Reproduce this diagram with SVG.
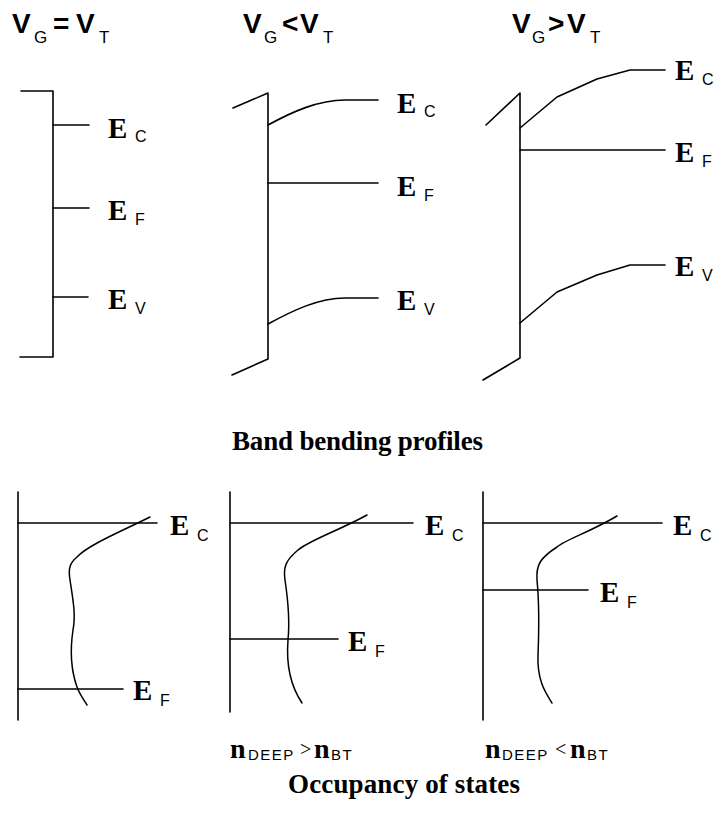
<svg xmlns="http://www.w3.org/2000/svg" width="726" height="828" viewBox="0 0 726 828">
<style>
.ln{fill:none;stroke:#000;stroke-width:1.6;stroke-linecap:round;stroke-linejoin:round}
.cv{fill:none;stroke:#000;stroke-width:1.5;stroke-linecap:round}
.tv{font-family:"Liberation Sans",Arial,sans-serif;font-weight:bold;font-size:28px;fill:#000}
.ts{font-family:"Liberation Sans",Arial,sans-serif;font-weight:normal;font-size:17px;fill:#000}
.e{font-family:"Liberation Serif","Times New Roman",serif;font-weight:bold;font-size:29px;fill:#000}
.es{font-family:"Liberation Sans",Arial,sans-serif;font-weight:normal;font-size:16px;fill:#000}
.n{font-family:"Liberation Serif","Times New Roman",serif;font-weight:bold;font-size:28px;fill:#000}
.ns{font-family:"Liberation Sans",Arial,sans-serif;font-weight:normal;font-size:15px;letter-spacing:1.5px;fill:#000}
.op{font-family:"Liberation Serif","Times New Roman",serif;font-weight:normal;font-size:20px;fill:#000}
.cap{font-family:"Liberation Serif","Times New Roman",serif;font-weight:bold;font-size:27px;fill:#000}
</style>
<rect width="726" height="828" fill="#fff"/>

<g id="title1"><text class="tv" x="12" y="33">V<tspan class="ts" x="34" y="43">G</tspan><tspan x="53" y="33">=</tspan><tspan x="76" y="33">V</tspan><tspan class="ts" x="99" y="43">T</tspan></text></g>
<g id="title2"><text class="tv" x="243" y="33">V<tspan class="ts" x="264" y="43">G</tspan><tspan x="282" y="33">&lt;</tspan><tspan x="300" y="33">V</tspan><tspan class="ts" x="323" y="43">T</tspan></text></g>
<g id="title3"><text class="tv" x="512" y="33">V<tspan class="ts" x="532" y="43">G</tspan><tspan x="548" y="33">&gt;</tspan><tspan x="567" y="33">V</tspan><tspan class="ts" x="590" y="43">T</tspan></text></g>

<g id="band1">
<path class="ln" d="M21,91 H53 V357 H20"/>
<path class="ln" d="M53,125 H89 M53,208 H89 M53,297 H88"/>
<text class="e" x="108" y="138">E<tspan class="es" x="135" y="142">C</tspan></text>
<text class="e" x="108" y="220">E<tspan class="es" x="135" y="225">F</tspan></text>
<text class="e" x="108" y="309">E<tspan class="es" x="135" y="314">V</tspan></text>
</g>

<g id="band2">
<path class="ln" d="M233,108 L268,93 V359 L232,375"/>
<path class="ln" d="M268,125 C292,112 318,100 345,100 L378,100"/>
<path class="ln" d="M268,183 H378"/>
<path class="ln" d="M268,324 C292,311 318,298 345,298 L378,298"/>
<text class="e" x="397" y="113">E<tspan class="es" x="424" y="117">C</tspan></text>
<text class="e" x="397" y="196">E<tspan class="es" x="424" y="201">F</tspan></text>
<text class="e" x="397" y="310">E<tspan class="es" x="424" y="315">V</tspan></text>
</g>

<g id="band3">
<path class="ln" d="M486,125 L520,93 V358 L483,380"/>
<polyline class="ln" points="520,128 557,97 597,79 630,70 665,70"/>
<path class="ln" d="M520,150 H665"/>
<polyline class="ln" points="520,323 557,292 597,275 630,265 665,265"/>
<text class="e" x="675" y="80">E<tspan class="es" x="702" y="85">C</tspan></text>
<text class="e" x="675" y="162">E<tspan class="es" x="702" y="167">F</tspan></text>
<text class="e" x="675" y="276">E<tspan class="es" x="702" y="281">V</tspan></text>
</g>

<g id="caption-band"><text class="cap" x="232" y="450" textLength="251" lengthAdjust="spacing">Band bending profiles</text></g>

<g id="occ1">
<path class="ln" d="M18,492 V720"/>
<path class="ln" d="M18,523 H157 M18,689 H123"/>
<path class="cv" d="M150,517 C120,532 88,545 77,557 C70,563 68,568 70,580 C73,600 76,615 73,630 C70,650 71,670 77,687 C80,695 84,700 87,705"/>
<text class="e" x="170" y="535">E<tspan class="es" x="197" y="541">C</tspan></text>
<text class="e" x="133" y="700">E<tspan class="es" x="160" y="706">F</tspan></text>
</g>

<g id="occ2">
<path class="ln" d="M230,492 V712"/>
<path class="ln" d="M230,523 H413 M230,639 H338"/>
<path class="cv" d="M367,515 C340,530 310,540 298,550 C286,560 283,567 285,580 C288,600 290,620 288,640 C286,665 290,685 302,703"/>
<text class="e" x="425" y="535">E<tspan class="es" x="452" y="541">C</tspan></text>
<text class="e" x="348" y="651">E<tspan class="es" x="375" y="657">F</tspan></text>
<text class="n" x="230" y="758">n<tspan class="ns" x="248" y="760">DEEP</tspan><tspan class="op" x="300" y="756">&gt;</tspan><tspan x="314" y="758">n</tspan><tspan class="ns" x="331" y="760">BT</tspan></text>
</g>

<g id="occ3">
<path class="ln" d="M483,492 V720"/>
<path class="ln" d="M483,523 H662 M483,590 H588"/>
<path class="cv" d="M617,516 C590,532 565,540 557,547 C540,558 536,565 537,580 C539,600 539,630 538,655 C537,680 545,692 552,703"/>
<text class="e" x="673" y="535">E<tspan class="es" x="700" y="541">C</tspan></text>
<text class="e" x="600" y="602">E<tspan class="es" x="627" y="608">F</tspan></text>
<text class="n" x="485" y="758">n<tspan class="ns" x="502" y="760">DEEP</tspan><tspan class="op" x="555" y="756">&lt;</tspan><tspan x="570" y="758">n</tspan><tspan class="ns" x="587" y="760">BT</tspan></text>
</g>

<g id="caption-occ"><text class="cap" x="288" y="793" textLength="232" lengthAdjust="spacing">Occupancy of states</text></g>
</svg>
